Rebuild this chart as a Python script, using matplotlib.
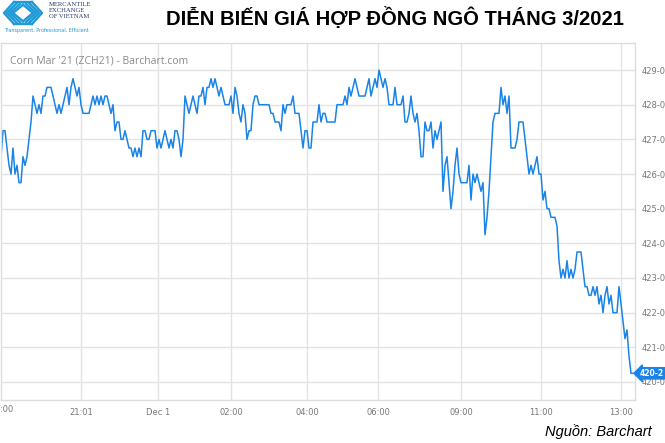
import matplotlib.pyplot as plt
import numpy as np

# ZCH21 intraday prices (cents/bu), sampled evenly along the compressed time axis
prices = [
    426.5, 427.25, 427.25, 426.75, 426.25, 426.0, 426.75, 426.0, 426.25, 425.75,
    425.75, 426.5, 426.25, 426.5, 427.0, 427.5, 428.25, 428.0, 427.75, 428.0,
    427.75, 428.25, 428.25, 428.5, 428.5, 428.5, 428.25, 428.0, 427.75, 428.0,
    427.75, 428.0, 428.25, 428.5, 428.0, 428.5, 428.75, 428.5, 428.25, 428.5,
    428.0, 427.75, 427.75, 427.75, 427.75, 428.0, 428.25, 428.0, 428.25, 428.0,
    428.25, 428.0, 428.25, 428.25, 428.0,
    427.75, 428.0, 427.25, 427.5, 427.5, 427.0, 427.0, 427.25, 427.0, 426.75,
    426.75, 426.5, 426.75, 426.5, 426.75, 426.5, 427.25, 427.25, 427.0, 427.0,
    427.25, 427.25, 427.25, 426.75, 427.0, 426.75, 427.0, 427.25, 427.0, 426.75,
    427.0, 426.75, 427.25, 427.25, 427.0, 426.5, 427.0, 428.25, 428.0, 427.75,
    428.0, 428.25, 428.0, 427.75, 428.25, 428.25, 428.5, 428.0, 428.5, 428.5,
    428.75, 428.5, 428.75,
    428.5, 428.25, 428.5, 428.25, 428.0, 428.0, 428.0, 428.25, 427.75, 428.5,
    428.25, 427.75, 427.5, 428.0, 427.75, 427.0, 427.25, 427.25, 428.0, 428.25,
    428.25, 428.0, 428.0, 428.0, 428.0, 428.0, 428.0, 427.75, 427.75, 427.5,
    427.5, 427.5, 427.25, 428.0, 427.75, 428.0, 428.0, 428.0, 428.25, 427.75,
    427.75, 427.75, 427.25, 426.75, 427.25, 427.25, 426.75, 426.75, 427.5, 427.5,
    427.5,
    428.0, 427.5, 427.75, 427.75, 427.5, 427.5, 427.5, 427.5, 427.5, 428.0,
    428.0, 428.0, 428.0, 428.25, 428.0, 428.5, 428.25, 428.5, 428.75, 428.5,
    428.25, 428.25, 428.25, 428.25, 428.5, 428.75, 428.25, 428.5, 428.75, 428.5,
    429.0, 428.75, 428.5, 428.75, 428.5, 428.0, 428.0, 428.0, 428.5, 428.0,
    428.0, 428.0, 428.25, 427.5, 427.5, 427.75, 428.25, 427.75, 427.5, 427.75,
    427.25, 426.5, 426.5,
    427.5, 427.25, 427.25, 427.5, 426.75, 427.25, 427.0, 427.25, 427.5, 425.5,
    426.25, 426.5, 425.75, 425.0, 425.5, 426.25, 426.75, 426.0, 425.75, 425.75,
    425.75, 425.75, 426.25, 425.25, 426.0, 425.75, 426.0, 425.75, 425.5, 425.75,
    424.25, 424.75, 425.5, 426.5, 427.5, 427.75, 427.75, 427.75, 428.5, 428.0,
    428.25, 427.75, 428.25, 426.75, 426.75, 426.75, 427.0, 427.5, 427.5, 427.5,
    427.0, 426.5,
    426.0, 426.25, 426.0, 426.25, 426.5, 426.0, 426.0, 425.25, 425.5, 425.0,
    425.0, 424.75, 424.75, 424.75, 424.5, 423.5, 423.0, 423.25, 423.0, 423.5,
    423.0, 423.25, 423.0, 423.25, 423.75, 423.75, 423.75, 423.25, 422.75, 422.75,
    422.5, 422.5, 422.75, 422.5, 422.75, 422.25, 422.5, 422.0, 422.5, 422.75,
    422.25, 422.5, 422.0, 422.0, 422.0, 422.75, 422.25, 421.75, 421.25, 421.5,
    420.75, 420.25, 420.25,
]

tick_pos = [40, 78.5, 115, 153, 188.5, 230, 270, 310]
tick_labels = ["21:01", "Dec 1", "02:00", "04:00", "06:00", "09:00", "11:00", "13:00"]
price_levels = [420, 421, 422, 423, 424, 425, 426, 427, 428, 429]
last_label = "420-2"

W, H = 665, 443
fig = plt.figure(figsize=(W / 100, H / 100), dpi=100)
ax = fig.add_axes([1 / W, 1 - 400 / H, 634 / W, 357 / H])

line_col = "#1a84e6"
grid_col = "#e3e3e3"

ax.plot(np.arange(len(prices)), prices, color=line_col, lw=1.1)
ax.set_xlim(0, 317)
ax.set_ylim(419.48, 429.78)

ax.set_xticks(tick_pos)
ax.set_xticklabels(tick_labels)
ax.set_yticks(price_levels)
ax.set_yticklabels([f"{p}-0" for p in price_levels])
ax.yaxis.tick_right()
ax.tick_params(axis="both", length=0, labelsize=6, labelcolor="#777777")
ax.tick_params(axis="x", pad=6)
ax.tick_params(axis="y", pad=5)
ax.grid(True, color=grid_col, lw=1.0)
for s in ax.spines.values():
    s.set_color("#dddddd")
    s.set_linewidth(1.0)

ax.text(0.014, 0.965, "Corn Mar '21 (ZCH21) - Barchart.com", transform=ax.transAxes,
        fontsize=7.5, color="#8a8a8a", family="Open Sans", va="top", ha="left")

# left clipped tick label
fig.text(0 / W, 1 - 409 / H, ":00", fontsize=6, color="#777777", va="center", ha="left")

# last price marker, placed at the last price on the right
ax.annotate(last_label, xy=(1.0, prices[-1]), xycoords=("axes fraction", "data"),
            xytext=(3.5, 0), textcoords="offset points", fontsize=5.5, color="white",
            fontweight="bold", va="center", ha="left", annotation_clip=False,
            bbox=dict(boxstyle="larrow,pad=0.15", fc=line_col, ec=line_col))

fig.text(395 / W, 1 - 18 / H, "DIỄN BIẾN GIÁ HỢP ĐỒNG NGÔ THÁNG 3/2021",
         fontsize=14.6, fontweight="bold", family="Liberation Sans", ha="center", va="center")
fig.text(652 / W, 1 - 432 / H, "Nguồn: Barchart", fontsize=10.5, style="italic",
         family="Liberation Sans", ha="right", va="center")

# MXV logo (simplified)
lax = fig.add_axes([0, 1 - 35 / H, 95 / W, 35 / H])
lax.set_xlim(0, 95)
lax.set_ylim(35, 0)
lax.axis("off")
logo_col = "#1e9ad6"
for k in range(4):
    d = 3 * k
    lax.plot([14 + d, 4 + d, 14 + d], [2 + d * 0.3, 13, 24 - d * 0.3], color=logo_col, lw=1.7)
    lax.plot([32 - d, 42 - d, 32 - d], [2 + d * 0.3, 13, 24 - d * 0.3], color=logo_col, lw=1.7)
lax.plot([14, 32], [2, 2], color=logo_col, lw=1.7)
lax.plot([14, 32], [24, 24], color=logo_col, lw=1.7)
for j, t in enumerate(["MERCANTILE", "EXCHANGE", "OF VIETNAM"]):
    lax.text(49, 5 + j * 6, t, fontsize=4.8, family="Liberation Serif", color="#2b3a67",
             va="center", ha="left")
lax.text(4, 30.5, "Transparent, Professional, Efficient", fontsize=3.5, color=logo_col,
         va="center", ha="left")

fig.savefig("out.png", dpi=100)
